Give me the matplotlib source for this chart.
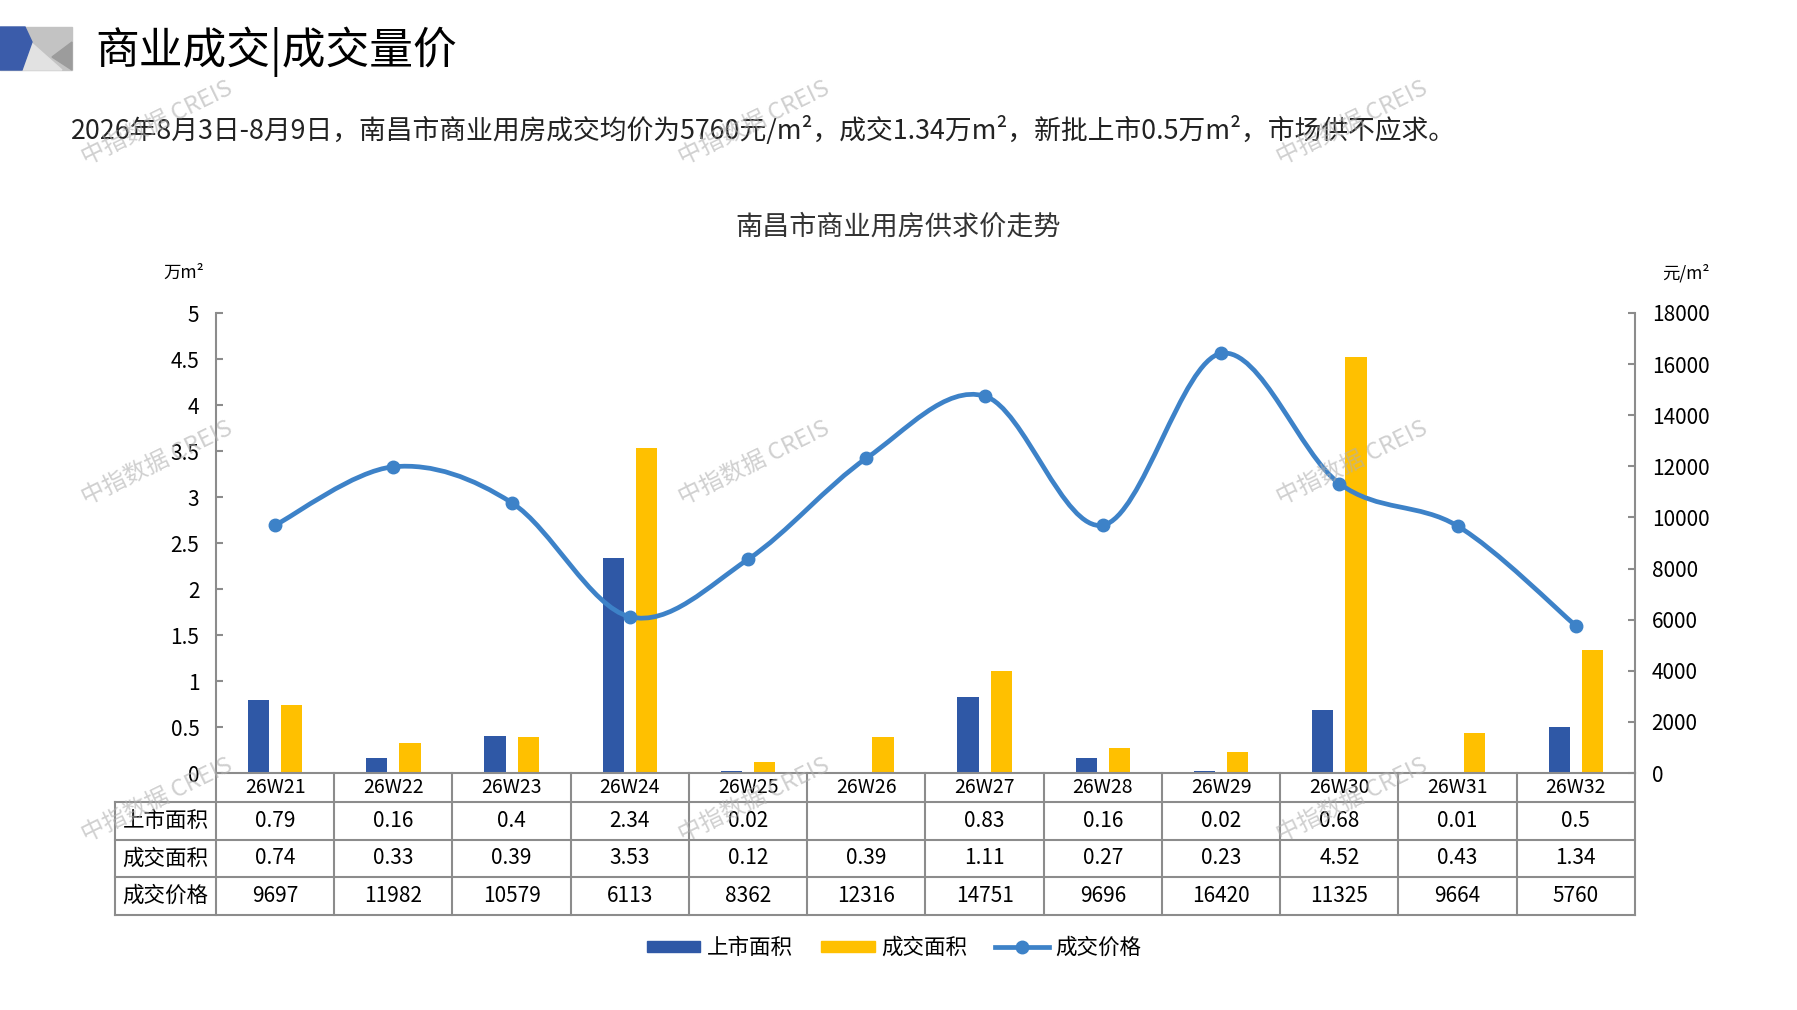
import numpy as np
import matplotlib
matplotlib.use("Agg")
import matplotlib.pyplot as plt
from matplotlib.patches import Polygon, Patch, PathPatch
from matplotlib.lines import Line2D
from matplotlib.path import Path
from matplotlib.transforms import blended_transform_factory

plt.rcParams['font.family'] = ['Noto Sans CJK SC', 'DejaVu Sans']

# data
weeks = ['26W21', '26W22', '26W23', '26W24', '26W25', '26W26',
         '26W27', '26W28', '26W29', '26W30', '26W31', '26W32']
supply = [0.79, 0.16, 0.4, 2.34, 0.02, None, 0.83, 0.16, 0.02, 0.68, 0.01, 0.5]
deal = [0.74, 0.33, 0.39, 3.53, 0.12, 0.39, 1.11, 0.27, 0.23, 4.52, 0.43, 1.34]
price = [9697, 11982, 10579, 6113, 8362, 12316, 14751, 9696, 16420, 11325, 9664, 5760]
row_names = ['上市面积', '成交面积', '成交价格']
left_ticks = [0, 0.5, 1, 1.5, 2, 2.5, 3, 3.5, 4, 4.5, 5]
right_ticks = [0, 2000, 4000, 6000, 8000, 10000, 12000, 14000, 16000, 18000]

blue = '#2F58A6'
yellow = '#FFC000'
line_c = '#3D82C8'
grid_c = '#8C8C8C'

W, H = 1797, 1010
fig = plt.figure(figsize=(W / 100, H / 100), dpi=100)


def fx(px):
    return px / W


def fy(py):
    return 1 - py / H


# header icon
icon = fig.add_axes([0, 0, 1, 1], zorder=-5)
icon.set_xlim(0, W)
icon.set_ylim(H, 0)
icon.axis('off')
icon.add_patch(Polygon([(0, 27), (72, 27), (72, 70), (0, 70)], color='#C3C3C3'))
icon.add_patch(Polygon([(26, 38), (62, 70), (22, 70)], color='#E2E2E2'))
icon.add_patch(Polygon([(72, 42), (72, 70), (52, 57)], color='#9C9C9C'))
icon.add_patch(Polygon([(0, 27), (25, 27), (32, 42), (22, 70), (0, 70)], color='#3B5CAA'))

fig.text(fx(95), fy(52), '商业成交|成交量价', fontsize=31.5, va='center', ha='left')
fig.text(fx(71), fy(131),
         '2026年8月3日-8月9日，南昌市商业用房成交均价为5760元/m²，成交1.34万m²，新批上市0.5万m²，市场供不应求。',
         fontsize=19.3, va='center', ha='left', color='#222222')
fig.text(fx(898), fy(227), '南昌市商业用房供求价走势', fontsize=19.5, ha='center', va='center',
         color='#333333')
fig.text(fx(184), fy(273), '万m²', fontsize=12.5, ha='center', va='center')
fig.text(fx(1686), fy(273), '元/m²', fontsize=12.5, ha='center', va='center')

ax = fig.add_axes([fx(216), fy(773), (1635 - 216) / W, (773 - 313) / H])
ax2 = ax.twinx()

x = np.arange(len(weeks))
sup = np.array([np.nan if v is None else v for v in supply], dtype=float)
ax.bar(x - 0.14, sup, width=0.18, color=blue, zorder=2)
ax.bar(x + 0.14, deal, width=0.18, color=yellow, zorder=2)
ax.set_xlim(-0.5, len(weeks) - 0.5)
ax.set_ylim(0, 5)
ax.set_yticks(left_ticks)
ax.set_yticklabels([f'{t:g}' for t in left_ticks])
ax.set_xticks([])

# smoothed price line (catmull-rom through the points)
pts = np.column_stack([x, price]).astype(float)
ext = np.vstack([pts[0], pts, pts[-1]])
verts = [pts[0]]
codes = [Path.MOVETO]
for i in range(len(pts) - 1):
    p0, p1, p2, p3 = ext[i], ext[i + 1], ext[i + 2], ext[i + 3]
    verts += [p1 + (p2 - p0) / 6, p2 - (p3 - p1) / 6, p2]
    codes += [Path.CURVE4] * 3
ax2.add_patch(PathPatch(Path(verts, codes), fill=False, edgecolor=line_c, lw=3.4,
                        capstyle='round', zorder=3))
ax2.plot(x, price, 'o', color=line_c, ms=9, zorder=4)
ax2.set_ylim(0, 18000)
ax2.set_yticks(right_ticks)

for a in (ax, ax2):
    a.spines['top'].set_visible(False)
    for s in ('left', 'right', 'bottom'):
        a.spines[s].set_color(grid_c)
        a.spines[s].set_linewidth(1.5)
    a.tick_params(axis='y', direction='in', length=5, width=1.5, color=grid_c,
                  labelsize=15, pad=12)
    a.patch.set_visible(False)
ax2.spines['left'].set_visible(False)
ax2.spines['bottom'].set_visible(False)
ax.spines['right'].set_visible(False)

# data table under the chart
trd = blended_transform_factory(ax.transData, fig.transFigure)
tra = blended_transform_factory(ax.transAxes, fig.transFigure)
rows_y = [fy(v) for v in (773, 802, 840, 877, 915)]
head_left = (115 - 216) / (1635 - 216)
for yy in rows_y[1:]:
    fig.add_artist(Line2D([head_left, 1], [yy, yy], transform=tra, color=grid_c, lw=1.5))
for k in range(len(weeks) + 1):
    fig.add_artist(Line2D([k - 0.5, k - 0.5], [rows_y[0], rows_y[-1]], transform=trd,
                          color=grid_c, lw=1.5))
fig.add_artist(Line2D([head_left, head_left], [rows_y[1], rows_y[-1]], transform=tra,
                      color=grid_c, lw=1.5))

row_vals = [supply, deal, price]
for i, w in enumerate(weeks):
    fig.text(i, (rows_y[0] + rows_y[1]) / 2, w, transform=trd, ha='center', va='center',
             fontsize=14)
    for r, vals in enumerate(row_vals):
        v = vals[i]
        if v is None:
            continue
        fig.text(i, (rows_y[r + 1] + rows_y[r + 2]) / 2, f'{v:g}', transform=trd,
                 ha='center', va='center', fontsize=15)
for r, name in enumerate(row_names):
    fig.text(head_left / 2, (rows_y[r + 1] + rows_y[r + 2]) / 2, name, transform=tra,
             ha='center', va='center', fontsize=15.5)

# legend
handles = [Patch(color=blue), Patch(color=yellow),
           Line2D([], [], color=line_c, lw=3.4, marker='o', ms=9)]
fig.legend(handles, row_names, loc='center', bbox_to_anchor=(fx(894), fy(948)), ncol=3,
           frameon=False, fontsize=15.5, handlelength=2.5, handleheight=0.4,
           handletextpad=0.3, columnspacing=1.3)

# watermarks
for wy in (123, 463, 800):
    for wx in (157, 754, 1352):
        fig.text(fx(wx), fy(wy), '中指数据 CREIS', rotation=26, ha='center', va='center',
                 fontsize=17, color='#B0B0B0', alpha=0.6, zorder=10)

fig.savefig('out.png', dpi=100)
